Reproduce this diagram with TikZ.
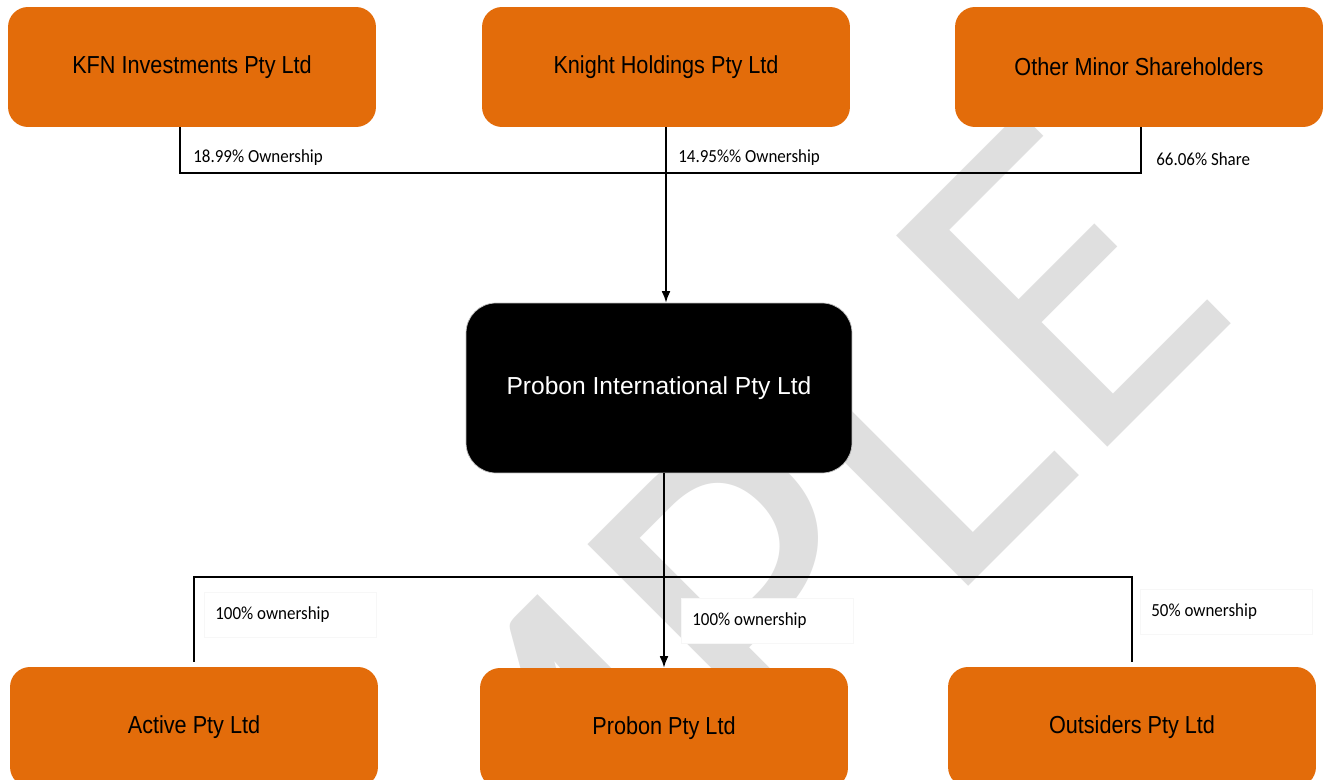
\documentclass[tikz,border=0pt]{standalone}
\usepackage{fontspec}
\setmainfont{Liberation Sans}
\newfontfamily\boxfont[FakeStretch=0.88]{Liberation Sans}
\newfontfamily\lblfont[FakeStretch=0.92]{Carlito}
\newfontfamily\markfont{Carlito}
\usetikzlibrary{arrows.meta}
\definecolor{boxorange}{RGB}{227,108,10}
\definecolor{markgray}{RGB}{223,223,223}
\tikzset{
  orangebox/.style={fill=boxorange, rounded corners=0.4cm, minimum width=7.36cm, minimum height=2.4cm, font=\boxfont\fontsize{14}{16}\selectfont},
  blackbox/.style={fill=black, draw=black!25, rounded corners=0.6cm, minimum width=7.72cm, minimum height=3.4cm, text=white, font=\fontsize{14}{16}\selectfont},
  toplbl/.style={fill=white, anchor=west, inner xsep=0.16cm, minimum height=0.5cm, font=\lblfont\fontsize{10.5}{12}\selectfont},
  botlbl/.style={fill=white, draw=black!3, anchor=west, text width=3.0cm, align=flush left, inner xsep=0.22cm, minimum height=0.9cm, font=\lblfont\fontsize{10.5}{12}\selectfont},
  link/.style={black, line width=0.9pt},
  arrowlink/.style={link, -{Latex[length=6.5pt,width=5pt]}}
}
\begin{document}
\begin{tikzpicture}[x=0.02cm, y=-0.02cm]
\useasboundingbox (0,0) rectangle (1325,780);
\fill [white] (0,0) rectangle (1325,780);
\clip (0,0) rectangle (1325,780);
%watermark
\node [markgray, rotate=45, anchor=base, inner sep=0, font=\markfont\fontsize{265}{265}\selectfont] (mark) at (700,855) {SAMPLE};

%ownership labels
\node [toplbl] (kfnlbl) at (185,158) {18.99\% Ownership};
\node [toplbl] (knightlbl) at (670,158) {14.95\%\% Ownership};
\node [toplbl] (minorlbl) at (1148,159) {66.06\% Share};
\node [botlbl] (activelbl) at (204,615) {100\% ownership};
\node [botlbl] (probonlbl) at (681,621) {100\% ownership};
\node [botlbl] (outsiderslbl) at (1140,612) {50\% ownership};

%shareholders
\node [orangebox] (kfn) at (192,67) {KFN Investments Pty Ltd};
\node [orangebox] (knight) at (666,67) {Knight Holdings Pty Ltd};
\node [orangebox] (minor) at (1139,67) {Other Minor Shareholders};
%the parent
\node [blackbox] (probint) at (659,388) {Probon International Pty Ltd};
%subsidiaries
\node [orangebox] (active) at (194,727) {Active Pty Ltd};
\node [orangebox] (probon) at (664,728) {Probon Pty Ltd};
\node [orangebox] (outsiders) at (1132,727) {Outsiders Pty Ltd};

%lines to the parent
\coordinate (kfnbend) at (180,173);
\coordinate (minorbend) at (1141,173);
\draw [link] (kfn.south -| kfnbend) -- (kfnbend) -- (minorbend) -- (minor.south -| minorbend);
\draw [arrowlink] (knight.south) -- (knight.south |- probint.north);

%lines to the subsidiaries
\coordinate (activebend) at (active.north |- 0,577);
\coordinate (outsidersbend) at (outsiders.north |- 0,577);
\draw [link, shorten <=0.1cm, shorten >=0.1cm] (active.north) -- (activebend) -- (outsidersbend) -- (outsiders.north);
\draw [arrowlink] (probint.south -| probon.north) -- (probon.north);
\end{tikzpicture}
\end{document}
